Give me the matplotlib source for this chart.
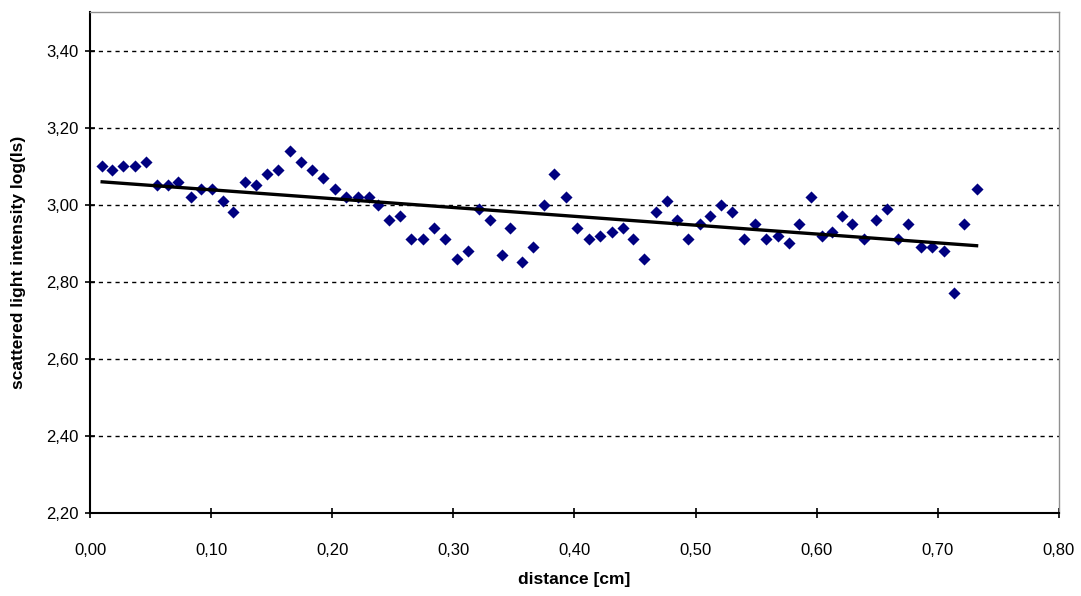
import numpy as np
import matplotlib.pyplot as plt
from matplotlib.ticker import FuncFormatter

# distance [cm] and log(Is)
distance = [0.010, 0.018, 0.027, 0.037, 0.046, 0.055, 0.064, 0.073, 0.083, 0.092,
            0.101, 0.110, 0.118, 0.128, 0.137, 0.146, 0.155, 0.165, 0.174, 0.183,
            0.192, 0.202, 0.211, 0.221, 0.230, 0.238, 0.247, 0.256, 0.265, 0.275,
            0.284, 0.293, 0.303, 0.312, 0.321, 0.330, 0.340, 0.347, 0.357, 0.366,
            0.375, 0.383, 0.393, 0.402, 0.412, 0.421, 0.431, 0.440, 0.448, 0.457,
            0.467, 0.476, 0.485, 0.494, 0.504, 0.512, 0.521, 0.530, 0.540, 0.549,
            0.558, 0.568, 0.577, 0.585, 0.595, 0.604, 0.613, 0.621, 0.629, 0.639,
            0.649, 0.658, 0.667, 0.675, 0.686, 0.695, 0.705, 0.713, 0.722, 0.732]
log_is = [3.10, 3.09, 3.10, 3.10, 3.11, 3.05, 3.05, 3.06, 3.02, 3.04,
          3.04, 3.01, 2.98, 3.06, 3.05, 3.08, 3.09, 3.14, 3.11, 3.09,
          3.07, 3.04, 3.02, 3.02, 3.02, 3.00, 2.96, 2.97, 2.91, 2.91,
          2.94, 2.91, 2.86, 2.88, 2.99, 2.96, 2.87, 2.94, 2.85, 2.89,
          3.00, 3.08, 3.02, 2.94, 2.91, 2.92, 2.93, 2.94, 2.91, 2.86,
          2.98, 3.01, 2.96, 2.91, 2.95, 2.97, 3.00, 2.98, 2.91, 2.95,
          2.91, 2.92, 2.90, 2.95, 3.02, 2.92, 2.93, 2.97, 2.95, 2.91,
          2.96, 2.99, 2.91, 2.95, 2.89, 2.89, 2.88, 2.77, 2.95, 3.04]

x = np.array(distance)
y = np.array(log_is)

# linear trendline
k, b = np.polyfit(x, y, 1)
xt = np.array([x.min(), x.max()])

plt.rcParams['font.family'] = ['Liberation Sans', 'DejaVu Sans']

fig = plt.figure(figsize=(10.81, 5.96), dpi=100)
ax = fig.add_axes([0.0833, 0.1393, 0.8963, 0.8406])

ax.scatter(x, y, marker='D', s=38, color='#000080', zorder=3, linewidths=0)
ax.plot(xt, k * xt + b, color='black', lw=2.4, zorder=4)

ax.set_xlim(0, 0.8)
ax.set_ylim(2.2, 3.5)
ax.set_xticks(np.arange(0, 0.81, 0.1))
ax.set_yticks(np.arange(2.2, 3.41, 0.2))
fmt = FuncFormatter(lambda v, p: f'{v:.2f}'.replace('.', ','))
ax.xaxis.set_major_formatter(fmt)
ax.yaxis.set_major_formatter(fmt)
ax.tick_params(direction='inout', length=7, width=1.2, labelsize=12, colors='black')
ax.tick_params(axis='x', pad=18)
ax.tick_params(axis='y', pad=5)

ax.yaxis.grid(True, linestyle=(0, (3, 3)), color='black', lw=1)
ax.set_axisbelow(True)

for s in ['left', 'bottom']:
    ax.spines[s].set_linewidth(1.5)
for s in ['top', 'right']:
    ax.spines[s].set_color('#909090')
    ax.spines[s].set_linewidth(1)

ax.set_xlabel('distance [cm]', fontsize=12.5, fontweight='bold', labelpad=10)
ax.set_ylabel('scattered light intensity log(Is)', fontsize=12.5, fontweight='bold', labelpad=14)

fig.savefig('out.png', dpi=100)
